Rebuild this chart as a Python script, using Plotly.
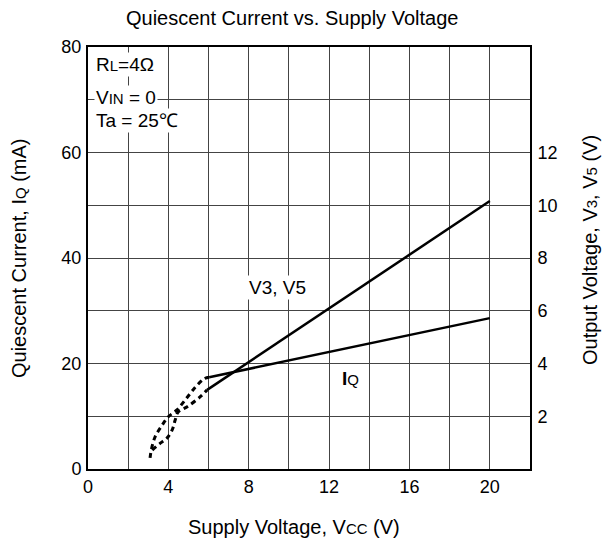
import plotly.graph_objects as go

# Data
iq_dash_x = [3.09, 3.15, 3.34, 3.69, 4.0, 4.43, 4.84, 5.34, 5.78, 6.03]
iq_dash_y = [2.1, 3.6, 6.1, 8.3, 9.9, 11.2, 13.1, 15.5, 17.1, 17.4]  # mA
iq_x = [6.03, 20.0]
iq_y = [17.4, 28.6]  # mA

v_dash_x = [3.2, 3.6, 3.94, 4.19, 4.34, 4.49, 4.94, 5.59, 5.93]
v_dash_y = [0.72, 0.98, 1.18, 1.48, 1.86, 2.16, 2.36, 2.74, 3.0]  # V
v_x = [5.93, 20.0]
v_y = [3.0, 10.16]  # V

x_grid = list(range(0, 23, 2))
x_labels = [str(v) if v % 4 == 0 and v <= 20 else "" for v in x_grid]
y_grid = list(range(0, 81, 10))
y_labels = [str(v) if v % 20 == 0 else "" for v in y_grid]
y2_ticks = [2, 4, 6, 8, 10, 12]
y2_labels = [str(v) for v in y2_ticks]

FONT = "Arial, Liberation Sans, sans-serif"
L, R, T, B = 88, 76, 47, 81
TICK = 18

fig = go.Figure()
dash_style = dict(color="black", width=3, dash="5px,4px")
solid_style = dict(color="black", width=2.5)
fig.add_trace(go.Scatter(x=iq_dash_x, y=iq_dash_y, mode="lines", line=dash_style, line_shape="spline"))
fig.add_trace(go.Scatter(x=iq_x, y=iq_y, mode="lines", line=solid_style))
fig.add_trace(go.Scatter(x=v_dash_x, y=v_dash_y, mode="lines", line=dash_style, line_shape="spline", yaxis="y2"))
fig.add_trace(go.Scatter(x=v_x, y=v_y, mode="lines", line=solid_style, yaxis="y2"))

fig.update_layout(
    width=606, height=550,
    margin=dict(l=L, r=R, t=T, b=B),
    paper_bgcolor="white", plot_bgcolor="white",
    showlegend=False,
    font=dict(family=FONT, size=TICK, color="black"),
    xaxis=dict(range=[0, 22], tickvals=x_grid, ticktext=x_labels, showgrid=True,
               gridcolor="#444", gridwidth=1, showline=True, linecolor="black", linewidth=2,
               mirror=True, ticks="", zeroline=False, tickfont=dict(size=TICK)),
    yaxis=dict(range=[0, 80], tickvals=y_grid, ticktext=y_labels, showgrid=True,
               gridcolor="#444", gridwidth=1, showline=True, linecolor="black", linewidth=2,
               ticks="", zeroline=False, tickfont=dict(size=TICK), ticklabelstandoff=1),
    yaxis2=dict(range=[0, 16], tickvals=y2_ticks, ticktext=y2_labels, overlaying="y",
                side="right", showgrid=False, showline=True, linecolor="black", linewidth=2,
                ticks="", zeroline=False, tickfont=dict(size=TICK), ticklabelstandoff=2),
)

def px2paper(px, py):
    return (px - L) / (606 - L - R), (550 - B - py) / (550 - T - B)

sm = "<span style='font-size:15px'>"
annos = [
    ("Quiescent Current vs. Supply Voltage", 292, 18, 0, 20),
    ("Supply Voltage, V" + sm + "CC</span> (V)", 294, 527, 0, 20),
    ("Quiescent Current, I" + sm + "Q</span> (mA)", 19, 258, -90, 20),
    ("Output Voltage, V" + sm + "3</span>, V" + sm + "5</span> (V)", 590, 250, -90, 20),
]
for text, px, py, ang, size in annos:
    xp, yp = px2paper(px, py)
    fig.add_annotation(text=text, x=xp, y=yp, xref="paper", yref="paper", showarrow=False,
                       textangle=ang, font=dict(size=size, family=FONT), xanchor="center", yanchor="middle")

labels = [
    ("R" + sm + "L</span>=4Ω", 0.3, 76.6, "left"),
    ("V" + sm + "IN</span> = 0", 0.3, 70.5, "left"),
    ("Ta = 25℃", 0.3, 66.1, "left"),
    ("V3, V5", 9.43, 34.5, "center"),
    ("<b>I</b>" + sm + "Q</span>", 13.07, 17.2, "center"),
]
for text, x, y, anc in labels:
    fig.add_annotation(text=text, x=x, y=y, xref="x", yref="y", showarrow=False,
                       xanchor=anc, yanchor="middle", bgcolor="white", borderpad=1,
                       font=dict(size=19, family=FONT))

fig.write_html("out.html", post_script="document.body.style.margin='0';",
               config={"displayModeBar": False})
